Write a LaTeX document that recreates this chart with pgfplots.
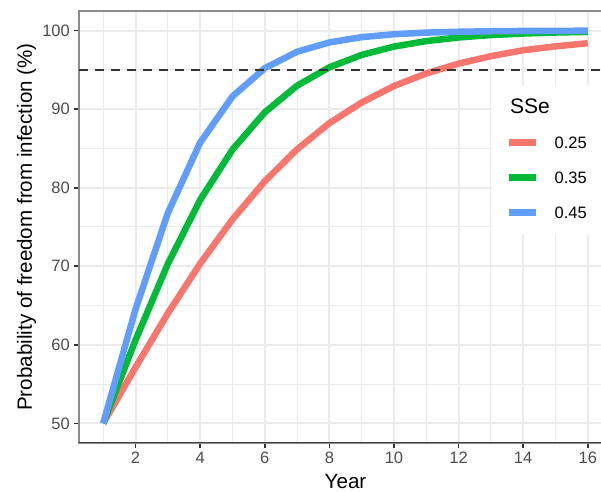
\documentclass[border=0pt]{standalone}
\usepackage{pgfplots}
\usepackage{pgfplotstable}
\pgfplotsset{compat=1.18}
\usetikzlibrary{calc}
\usepackage{fontspec}
\setmainfont{Liberation Sans}
\definecolor{cred}{HTML}{F8766D}
\definecolor{cgreen}{HTML}{00BA38}
\definecolor{cblue}{HTML}{619CFF}
\definecolor{gridc}{HTML}{EBEBEB}
\definecolor{tickc}{HTML}{4D4D4D}

\pgfplotstableread{
year  red    green  blue
1     50.00  50.00  50.00
2     57.14  60.61  64.52
3     64.00  70.30  76.78
4     70.33  78.45  85.74
5     75.96  84.85  91.62
6     80.82  89.60  95.21
7     84.89  92.99  97.31
8     88.22  95.33  98.50
9     90.85  96.91  99.17
10    92.95  97.97  99.54
11    94.55  98.67  99.75
12    95.80  99.13  99.86
13    96.75  99.44  99.92
14    97.50  99.63  99.96
15    98.00  99.76  99.98
16    98.40  99.84  99.99
}\data

\begin{document}
\begin{tikzpicture}
\useasboundingbox (-79bp,-49bp) rectangle (522bp,443bp);
\begin{axis}[
  at={(0,0)}, anchor=south west,
  scale only axis, width=533bp, height=432bp,
  xmin=0.25, xmax=16.75, ymin=47.5, ymax=102.5,
  xtick={2,4,...,16}, ytick={50,60,...,100},
  minor xtick={1,3,...,15}, minor ytick={55,65,...,95},
  grid=both,
  major grid style={draw=gridc, line width=2bp},
  minor grid style={draw=gridc, line width=1bp},
  axis line style={draw=black!45, line width=1.6bp},
  tick align=outside, xtick pos=left, ytick pos=left,
  major tick length=5bp, minor tick length=0pt,
  every tick/.style={draw=black!80, line width=1.6bp},
  /pgf/number format/assume math mode=true,
  ticklabel style={font=\fontsize{16.5bp}{18bp}\selectfont, text=tickc},
  xticklabel style={inner sep=1bp, yshift=-3bp},
  yticklabel style={inner sep=1bp, xshift=-3bp},
  xlabel={Year},
  ylabel={Probability of freedom from infection (\%)},
  every axis x label/.style={at={($(axis description cs:0.5,0)+(0,-45.5bp)$)}, anchor=base, font=\fontsize{20.6bp}{24bp}\selectfont},
  every axis y label/.style={at={($(axis description cs:0,0.5)+(-47bp,0)$)}, rotate=90, anchor=base, font=\fontsize{20.6bp}{24bp}\selectfont},
  legend style={at={(rel axis cs:0.77486,0.8287)}, anchor=north west,
    draw=none, fill=white, inner xsep=14bp, inner ysep=5bp,
    row sep=0pt, column sep=15bp,
    nodes={inner sep=0pt, text height=11.8bp, text depth=0pt, minimum height=35bp,
      font=\fontsize{16.5bp}{18bp}\selectfont},
    cells={anchor=west}},
  legend image code/.code={\draw[#1, line width=6.5bp] (0bp,0bp) -- (27bp,0bp);},
  legend cell align=left,
]
\addlegendimage{empty legend}
\addlegendentry{\makebox[0pt][l]{\hspace*{-45bp}\fontsize{21bp}{24bp}\selectfont SSe}}
\addplot[cred, line width=6.5bp, line join=round] table[x=year, y=red] {\data};
\addlegendentry{0.25}
\addplot[cgreen, line width=6.5bp, line join=round] table[x=year, y=green] {\data};
\addlegendentry{0.35}
\addplot[cblue, line width=6.5bp, line join=round] table[x=year, y=blue] {\data};
\addlegendentry{0.45}
\addplot[forget plot, black!80, line width=2.6bp, dash pattern=on 9bp off 7bp] coordinates {(0.25,95) (16.75,95)};
\draw[black!75, line width=1.6bp] (rel axis cs:0,0) -- (rel axis cs:1,0);
\end{axis}
\end{tikzpicture}
\end{document}
